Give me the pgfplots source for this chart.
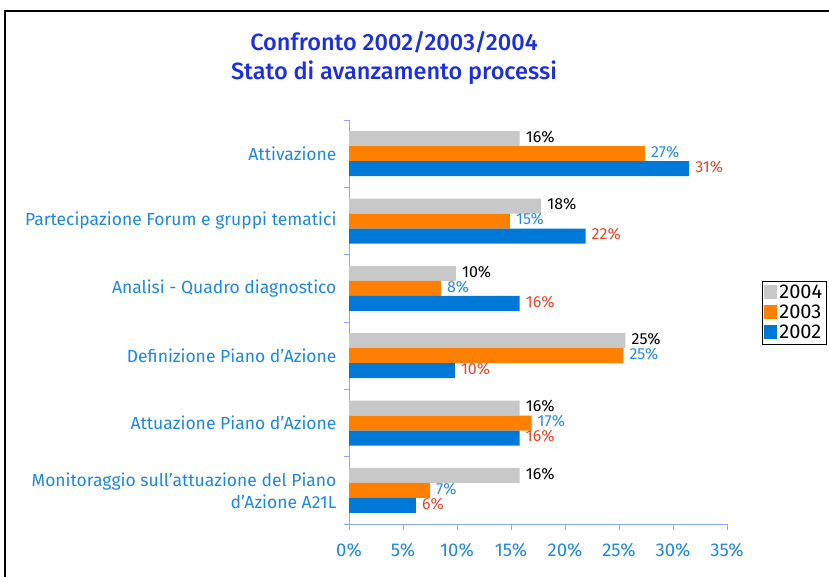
\documentclass[border=0pt]{standalone}
\usepackage{pgfplots}
\pgfplotsset{compat=1.18}
\usepackage{pgfplotstable}
\usepackage{fontspec}
\setmainfont{Fira Sans}
\newfontfamily\titlefont{Fira Sans Medium}
\definecolor{c2004}{HTML}{C8C8C8}
\definecolor{c2003}{HTML}{FF7F00}
\definecolor{c2002}{HTML}{0078D7}
\definecolor{lblblue}{HTML}{2A8AE6}
\definecolor{lblred}{HTML}{E8462A}
\definecolor{tickblue}{HTML}{1E88E0}
\definecolor{titleblue}{HTML}{1C2FE0}
\definecolor{axblue}{HTML}{8AA8FF}
\pgfplotstableread{
y x lab
5 15.8 16
4 17.8 18
3 9.9 10
2 25.6 25
1 15.8 16
0 15.8 16
}\dataA
\pgfplotstableread{
y x lab
5 27.4 27
4 14.9 15
3 8.5 8
2 25.4 25
1 16.9 17
0 7.5 7
}\dataB
\pgfplotstableread{
y x lab
5 31.5 31
4 21.9 22
3 15.8 16
2 9.8 10
1 15.8 16
0 6.2 6
}\dataC
\begin{document}
\begin{tikzpicture}
\useasboundingbox (0pt,0pt) rectangle (829pt,-576pt);
\draw[black, line width=1.2pt] (5pt,-11pt) rectangle (845pt,-595pt);
\node[titleblue, font=\fontsize{23.5}{29}\titlefont\selectfont, align=center] at (394pt,-58pt) {Confronto 2002/2003/2004\\Stato di avanzamento processi};
\begin{axis}[
  at={(349pt,-524pt)}, anchor=south west,
  scale only axis, width=378pt, height=404pt,
  xbar, bar width=15pt,
  xmin=0, xmax=35, ymin=-0.5, ymax=5.5,
  axis x line*=bottom, axis y line*=left,
  axis line style={axblue, line width=0.8pt},
  xtick={0,5,...,35},
  xticklabel={\pgfmathprintnumber{\tick}\%},
  xticklabel style={tickblue, font=\fontsize{18.5}{20}\selectfont, yshift=-10pt},
  ytick={0,1,2,3,4,5},
  yticklabels={{Monitoraggio sull'attuazione del Piano\\d'Azione A21L},
    {Attuazione Piano d'Azione},{Definizione Piano d'Azione},
    {Analisi - Quadro diagnostico},{Partecipazione Forum e gruppi tematici},{Attivazione}},
  yticklabel style={tickblue, font=\fontsize{17.5}{22}\selectfont, align=right},
  major y tick style={draw=none},
  minor ytick={-0.5,0.5,...,5.5},
  minor tick length=5pt,
  major tick length=6pt,
  tick align=outside,
  tick style={axblue, line width=0.8pt},
  y tick label style={xshift=-3pt},
  /pgf/number format/assume math mode=true,
  nodes near coords={\pgfplotspointmeta\%},
  point meta=explicit symbolic,
  nodes near coords style={font=\fontsize{16}{17}\selectfont, inner sep=1pt, anchor=west, xshift=5pt, yshift=1.5pt},
  legend style={at={(1.0926,0.602)}, anchor=north west, draw=black, line width=0.8pt,
    font=\fontsize{20}{22}\selectfont, row sep=1pt, inner sep=2pt},
  legend image code/.code={\fill[#1] (0pt,-6pt) rectangle (13pt,8pt);},
  legend cell align=left,
  clip=false,
]
\addplot[draw=none, fill=c2004, bar shift=15pt, nodes near coords style={black}] table[x=x,y=y,meta=lab]{\dataA};
\addplot[draw=none, fill=c2003, bar shift=0pt, nodes near coords style={lblblue}] table[x=x,y=y,meta=lab]{\dataB};
\addplot[draw=none, fill=c2002, bar shift=-15pt, nodes near coords style={lblred}] table[x=x,y=y,meta=lab]{\dataC};
\legend{2004,2003,2002}
\end{axis}
\end{tikzpicture}
\end{document}
